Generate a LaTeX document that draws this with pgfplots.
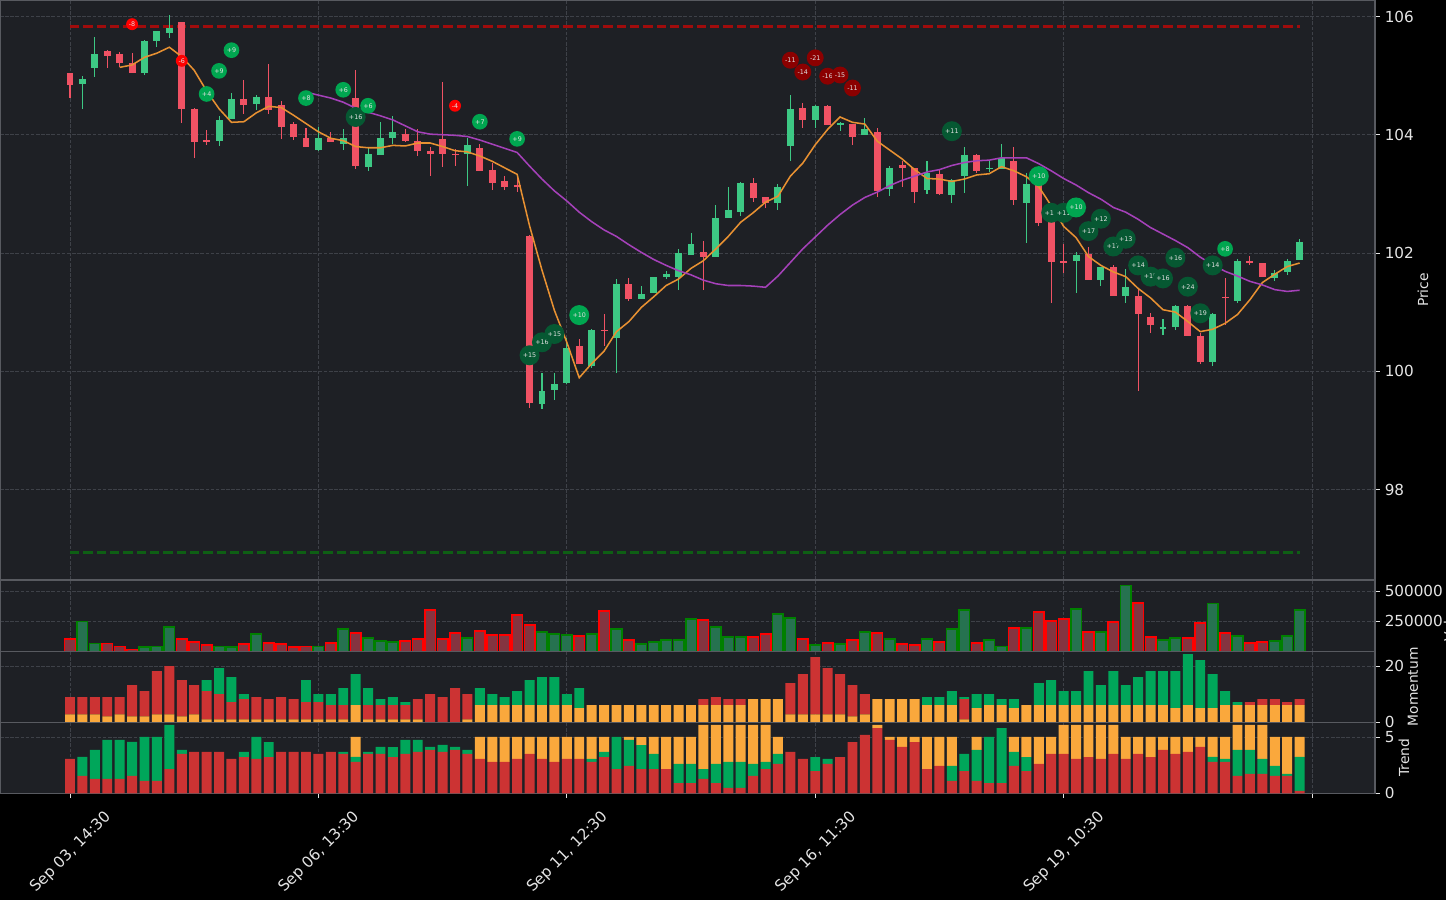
\documentclass[border=0pt]{standalone}
\usepackage{fontspec}
\setmainfont{DejaVu Sans}
\usepackage{pgfplots}
\usepackage{pgfplotstable}
\pgfplotsset{compat=1.18}
\definecolor{panelbg}{RGB}{30,32,37}
\definecolor{gridc}{RGB}{62,65,72}
\definecolor{spinec}{RGB}{88,90,96}
\definecolor{textc}{RGB}{228,228,228}
\definecolor{candG}{RGB}{61,200,132}
\definecolor{candR}{RGB}{240,82,100}
\definecolor{smaO}{RGB}{232,145,50}
\definecolor{smaP}{RGB}{165,65,185}
\definecolor{dashR}{RGB}{160,12,12}
\definecolor{dashG}{RGB}{14,95,20}
\definecolor{volGf}{RGB}{38,114,80}
\definecolor{volGe}{RGB}{0,128,0}
\definecolor{volRf}{RGB}{132,52,64}
\definecolor{volRe}{RGB}{255,0,0}
\definecolor{barO}{RGB}{250,168,60}
\definecolor{barR}{RGB}{204,51,51}
\definecolor{barG}{RGB}{0,166,90}
\definecolor{bR}{RGB}{255,0,0}
\definecolor{bDR}{RGB}{139,0,0}
\definecolor{bG}{RGB}{0,166,80}
\definecolor{bDG}{RGB}{6,88,50}
\definecolor{btext}{RGB}{225,225,225}
\newcommand{\tickfont}{\fontsize{11}{13}\selectfont}
\newcommand{\labfont}{\fontsize{10}{12}\selectfont}
\newcommand{\bfont}{\fontsize{4.6}{5}\selectfont}

\pgfplotstableread{
x o h l c
1 104.85 105.00 104.44 104.95
2 105.13 105.66 104.98 105.37
6 105.04 105.61 105.01 105.58
7 105.58 105.75 105.49 105.75
8 105.72 106.02 105.63 105.80
12 103.89 104.31 103.81 104.25
13 104.26 104.70 104.26 104.61
15 104.52 104.68 104.42 104.63
20 103.74 104.13 103.72 103.94
22 103.84 104.10 103.74 103.94
24 103.45 103.78 103.38 103.68
25 103.65 104.21 103.65 103.95
26 103.94 104.31 103.84 104.04
32 103.67 103.94 103.13 103.82
38 99.45 99.97 99.37 99.67
39 99.68 99.97 99.51 99.79
40 99.80 100.56 99.79 100.40
42 100.09 100.72 100.05 100.69
44 100.57 101.56 99.97 101.48
46 101.23 101.44 101.22 101.31
47 101.32 101.60 101.32 101.60
48 101.59 101.70 101.56 101.65
49 101.59 102.06 101.38 102.00
50 101.96 102.34 101.96 102.16
52 101.93 102.82 101.93 102.60
53 102.59 103.12 102.59 102.73
54 102.69 103.21 102.62 103.19
57 102.84 103.17 102.72 103.12
58 103.81 104.68 103.56 104.44
60 104.25 104.50 104.12 104.48
62 104.17 104.22 104.06 104.19
64 103.99 104.29 103.99 104.10
66 103.08 103.47 102.97 103.43
69 103.06 103.55 102.99 103.36
71 102.98 103.26 102.84 103.23
72 103.31 103.80 103.01 103.66
74 103.42 103.56 103.37 103.44
75 103.42 103.85 103.42 103.60
77 102.84 103.36 102.17 103.17
81 101.87 102.01 101.32 101.97
83 101.54 101.77 101.44 101.77
85 101.28 101.73 101.16 101.43
88 100.73 100.88 100.61 100.75
89 100.74 101.12 100.70 101.11
92 100.15 100.99 100.09 100.97
94 101.19 101.90 101.16 101.87
97 101.57 101.72 101.53 101.67
98 101.67 101.89 101.62 101.87
99 101.88 102.23 101.88 102.19
}\greenC

\pgfplotstableread{
x o h l c
0 105.04 105.04 104.62 104.84
3 105.41 105.44 105.13 105.33
4 105.36 105.40 105.14 105.22
5 105.22 105.39 105.04 105.04
9 105.90 105.90 104.19 104.43
10 104.43 104.46 103.61 103.87
11 103.92 104.08 103.83 103.87
14 104.60 104.93 104.35 104.50
16 104.63 105.20 104.35 104.41
17 104.51 104.58 103.93 104.14
18 104.18 104.21 103.91 103.97
19 103.94 104.12 103.79 103.79
21 103.94 104.05 103.87 103.87
23 104.63 105.10 103.42 103.48
27 104.02 104.10 103.87 103.90
28 103.90 104.10 103.64 103.72
29 103.73 103.79 103.31 103.68
30 103.92 104.90 103.45 103.67
31 103.68 103.76 103.47 103.66
33 103.78 103.85 103.39 103.39
34 103.41 103.53 103.06 103.19
35 103.21 103.31 103.06 103.12
36 103.14 103.27 103.04 103.12
37 102.29 102.30 99.37 99.46
41 100.42 100.55 100.12 100.12
43 100.70 100.97 100.43 100.68
45 101.48 101.58 101.19 101.23
51 102.02 102.20 101.38 101.93
55 103.19 103.26 102.86 102.93
56 102.94 102.94 102.76 102.84
59 104.46 104.53 104.12 104.25
61 104.48 104.50 104.16 104.16
63 104.19 104.19 103.83 103.96
65 104.05 104.11 102.94 103.04
67 103.49 103.55 103.11 103.43
68 103.43 103.43 102.84 103.03
70 103.34 103.40 102.99 102.99
73 103.65 103.68 103.35 103.38
76 103.56 103.80 102.81 102.89
78 103.17 103.20 102.45 102.50
79 102.62 102.62 101.16 101.84
80 101.87 102.15 101.66 101.84
82 101.98 102.10 101.54 101.54
84 101.77 101.80 101.28 101.28
86 101.28 101.40 99.67 100.96
87 100.91 100.99 100.65 100.78
90 101.11 101.12 100.59 100.59
91 100.60 100.65 100.12 100.15
93 101.26 101.58 100.78 101.24
95 101.87 101.95 101.80 101.83
96 101.84 101.84 101.59 101.59
}\redC

% signal badges, one table per colour and size
\pgfplotstableread{
x y lab
23 104.30 +16
37 100.27 +15
38 100.49 +16
39 100.63 +15
71 104.06 +11
79 102.68 +11
80 102.68 +11
82 102.37 +17
83 102.58 +12
84 102.11 +17
85 102.24 +13
86 101.79 +14
87 101.60 +15
88 101.57 +16
89 101.92 +16
90 101.43 +24
91 100.98 +19
92 101.79 +14
}\bdg
\pgfplotstableread{
x y lab
58 105.26 -11
59 105.06 -14
60 105.30 -21
61 104.99 -16
62 105.01 -15
63 104.79 -11
}\bdr
\pgfplotstableread{
x y lab
5 105.87 -8
9 105.25 -6
31 104.49 -4
}\brr
\pgfplotstableread{
x y lab
11 104.69 +4
12 105.08 +9
13 105.43 +9
19 104.62 +8
22 104.76 +6
24 104.49 +6
33 104.22 +7
36 103.93 +9
93 102.07 +8
}\bgs
\pgfplotstableread{
x y lab
41 100.95 +10
78 103.30 +10
81 102.77 +10
}\bgl

\pgfplotstableread{
x v
1 250000
2 64000
6 34000
7 42000
8 203000
12 42000
13 34000
15 144000
20 42000
22 186000
24 110000
25 84000
26 76000
32 110000
38 160000
39 144000
40 135000
42 144000
44 186000
46 59000
47 76000
48 93000
49 93000
50 270000
52 203000
53 118000
54 118000
57 312000
58 279000
60 51000
62 59000
64 160000
66 101000
69 101000
71 186000
72 346000
74 93000
75 42000
77 194000
81 355000
83 160000
85 549000
88 93000
89 110000
92 397000
94 127000
97 84000
98 127000
99 346000
}\volG

\pgfplotstableread{
x v
0 101000
3 64000
4 42000
5 17000
9 101000
10 76000
11 51000
14 59000
16 68000
17 59000
18 34000
19 42000
21 68000
23 152000
27 84000
28 101000
29 346000
30 101000
31 152000
33 169000
34 135000
35 135000
36 304000
37 220000
41 127000
43 338000
45 93000
51 262000
55 118000
56 144000
59 101000
61 68000
63 93000
65 152000
67 59000
68 51000
70 76000
73 68000
76 194000
78 329000
79 253000
80 270000
82 160000
84 245000
86 405000
87 118000
90 110000
91 236000
93 152000
95 68000
96 76000
}\volR

\pgfplotstableread{
x o r g
0 2.86 6.07 0
1 2.86 6.07 0
2 2.86 6.07 0
3 2.14 6.79 0
4 2.86 6.07 0
5 2.14 11.07 0
6 2.14 8.93 0
7 2.86 15.36 0
8 2.86 17.14 0
9 2.14 12.86 0
10 2.86 10.36 0
11 1.07 10.00 3.93
12 1.07 8.93 9.29
13 1.07 6.07 8.93
14 1.07 7.14 1.79
15 1.07 7.86 0
16 1.07 7.14 0
17 1.07 7.86 0
18 1.07 7.14 0
19 1.07 6.07 7.86
20 1.07 6.07 2.86
21 1.07 5.00 3.93
22 1.07 5.00 6.07
23 6.07 0 11.07
24 1.07 5.00 6.07
25 1.07 5.00 2.14
26 1.07 5.00 2.86
27 1.07 5.00 1.07
28 1.07 7.14 0
29 0 10.00 0
30 0 8.93 0
31 0 12.14 0
32 1.07 8.93 0
33 6.07 0 6.07
34 6.07 0 3.93
35 6.07 0 2.86
36 6.07 0 5.00
37 6.07 0 8.93
38 6.07 0 10.00
39 6.07 0 10.00
40 6.07 0 3.93
41 5.00 0 7.14
42 6.07 0 0
43 6.07 0 0
44 6.07 0 0
45 6.07 0 0
46 6.07 0 0
47 6.07 0 0
48 6.07 0 0
49 6.07 0 0
50 6.07 0 0
51 6.07 2.14 0
52 6.07 2.86 0
53 6.07 2.14 0
54 6.07 2.14 0
55 8.21 0 0
56 8.21 0 0
57 8.21 0 0
58 2.86 11.07 0
59 2.86 14.29 0
60 2.86 20.36 0
61 2.86 16.43 0
62 2.86 14.29 0
63 2.14 11.07 0
64 2.86 7.14 0
65 8.21 0 0
66 8.21 0 0
67 8.21 0 0
68 8.21 0 0
69 6.07 0 2.86
70 6.07 0 2.86
71 6.07 0 5.00
72 1.07 7.14 0.71
73 5.00 0 5.00
74 6.07 0 3.93
75 6.07 0 2.14
76 5.00 0 3.21
77 6.07 0 0
78 6.07 0 7.86
79 6.07 0 8.93
80 6.07 0 5.00
81 6.07 0 5.00
82 6.07 0 12.14
83 6.07 0 7.14
84 6.07 0 12.14
85 6.07 0 7.14
86 6.07 0 10.00
87 6.07 0 12.14
88 6.07 0 12.14
89 5.00 0 13.21
90 6.07 0 18.21
91 5.00 0 17.14
92 5.00 0 12.14
93 6.07 0 5.00
94 6.07 0 1.07
95 6.07 1.07 0
96 6.07 2.14 0
97 6.07 2.14 0
98 6.07 1.07 0
99 6.07 2.14 0
}\mom

\pgfplotstableread{
x r g o
0 3.07 0 0
1 1.55 1.70 0
2 1.28 2.59 0
3 1.28 3.48 0
4 1.28 3.48 0
5 1.55 3.04 0
6 1.10 3.93 0
7 1.10 3.93 0
8 2.17 3.93 0
9 3.51 0.36 0
10 3.69 0 0
11 3.69 0 0
12 3.69 0 0
13 3.07 0 0
14 3.24 0.45 0
15 3.07 1.96 0
16 3.24 1.34 0
17 3.69 0 0
18 3.69 0 0
19 3.69 0 0
20 3.51 0 0
21 3.69 0 0
22 3.51 0.18 0
23 2.80 0.45 1.79
24 3.51 0.18 0
25 3.51 0.63 0
26 3.24 0.89 0
27 3.51 1.25 0
28 3.69 1.07 0
29 3.87 0.27 0
30 3.69 0.63 0
31 3.87 0.27 0
32 3.51 0.36 0
33 3.07 0 1.96
34 2.80 0 2.23
35 2.80 0 2.23
36 3.07 0 1.96
37 3.51 0 1.52
38 3.07 0 1.96
39 2.80 0 2.23
40 3.07 0 1.96
41 3.07 0 1.96
42 2.80 0.27 1.96
43 3.24 0.45 1.34
44 2.17 2.86 0
45 2.44 2.32 0.27
46 2.17 2.14 0.71
47 2.17 1.34 1.52
48 2.17 0 2.86
49 0.92 1.70 2.41
50 0.92 1.70 2.41
51 1.28 0.89 3.93
52 0.92 1.70 3.48
53 0.48 2.32 3.30
54 0.48 2.32 3.30
55 1.55 1.07 3.48
56 2.17 0.63 3.30
57 2.62 0.89 1.52
58 3.69 0 0
59 3.07 0 0
60 1.99 1.25 0
61 2.62 0.45 0
62 3.24 0 0
63 4.58 0 0
64 5.21 0 0
65 5.83 0 0.27
66 4.76 0 0.27
67 4.14 0 0.89
68 4.58 0 0.45
69 2.17 0 2.86
70 2.44 0 2.59
71 1.10 1.34 2.59
72 1.99 1.52 0
73 1.10 2.77 1.16
74 0.92 4.11 0
75 0.92 4.91 0
76 2.44 1.25 1.34
77 1.99 1.25 1.79
78 2.62 0 2.41
79 3.51 0 1.52
80 3.51 0 2.59
81 3.07 0 3.04
82 3.24 0 2.86
83 3.07 0 3.04
84 3.51 0 2.59
85 3.07 0 1.96
86 3.51 0 1.52
87 3.24 0 1.79
88 3.87 0 1.16
89 3.51 0 1.52
90 3.69 0 1.34
91 4.14 0 0.89
92 2.80 0.45 1.79
93 2.80 0.27 1.96
94 1.55 2.32 2.23
95 1.73 2.14 2.23
96 1.73 1.34 3.04
97 1.55 0.89 2.59
98 1.55 0.18 3.30
99 0.21 3.04 1.79
}\trend

\pgfplotsset{
  panel/.style={
    scale only axis, width=990bp,
    xmin=-5.636, xmax=105.07, enlargelimits=false,
    axis background/.style={fill=panelbg},
    axis line style={spinec, line width=0.8bp},
    xmajorgrids, ymajorgrids,
    major grid style={gridc, line width=0.6bp, dash pattern=on 2.6bp off 1.1bp},
    xtick={0,20,40,60,80,100},
    ytick pos=right, yticklabel pos=right,
    tick align=outside, major tick length=3.5bp,
    tick style={textc, line width=0.6bp},
    tick label style={font=\tickfont, text=textc},
    label style={font=\labfont, text=textc},
    /pgf/number format/assume math mode=true,
    scaled y ticks=false,
    ylabel style={anchor=center},
  },
  upper/.style={xticklabels={}, xtick style={draw=none}},
  badge/.style={only marks, mark=*, mark size=0.2pt, color=panelbg,
    point meta=explicit symbolic, nodes near coords,
    every node near coord/.append style={anchor=center, circle, fill=#1,
      inner sep=0pt, text=btext, font=\bfont}},
}

\begin{document}
\begin{tikzpicture}
\fill[black] (0,0) rectangle (1041.12bp,648bp);
\useasboundingbox (0,0) rectangle (1041.12bp,648bp);

% ---------------- price panel ----------------
\begin{axis}[panel, upper, at={(0bp,648bp)}, anchor=north west, height=417.6bp,
  ymin=96.469, ymax=106.279, ytick={98,100,102,104,106},
  ylabel={Price}, ylabel style={at={(axis description cs:1.0349,0.5)}}]
\addplot[dashR, line width=2.16bp, dash pattern=on 6.7bp off 2.9bp] coordinates {(0,105.83) (99,105.83)};
\addplot[dashG, line width=2.16bp, dash pattern=on 6.7bp off 2.9bp] coordinates {(0,96.93) (99,96.93)};
% green candles
\addplot[draw=none, mark=none, error bars/.cd, y dir=both, y explicit, error mark=none,
  error bar style={draw=candG, line width=0.75bp}]
  table[x=x, y expr={(\thisrow{h}+\thisrow{l})/2}, y error expr={(\thisrow{h}-\thisrow{l})/2}] {\greenC};
\addplot[draw=none, mark=none, error bars/.cd, y dir=both, y explicit, error mark=none,
  error bar style={draw=candG, line width=5bp}]
  table[x=x, y expr={(\thisrow{o}+\thisrow{c})/2}, y error expr={max(abs(\thisrow{c}-\thisrow{o})/2,0.012)}] {\greenC};
% red candles
\addplot[draw=none, mark=none, error bars/.cd, y dir=both, y explicit, error mark=none,
  error bar style={draw=candR, line width=0.75bp}]
  table[x=x, y expr={(\thisrow{h}+\thisrow{l})/2}, y error expr={(\thisrow{h}-\thisrow{l})/2}] {\redC};
\addplot[draw=none, mark=none, error bars/.cd, y dir=both, y explicit, error mark=none,
  error bar style={draw=candR, line width=5bp}]
  table[x=x, y expr={(\thisrow{o}+\thisrow{c})/2}, y error expr={max(abs(\thisrow{c}-\thisrow{o})/2,0.012)}] {\redC};
% moving averages
\addplot[smaO, line width=1.1bp, mark=none] coordinates {
(4,105.14) (5,105.18) (6,105.31) (7,105.38) (8,105.48) (9,105.32) (10,105.09) (11,104.74) (12,104.44) (13,104.21)
(14,104.22) (15,104.37) (16,104.48) (17,104.46) (18,104.33) (19,104.19) (20,104.05) (21,103.94) (22,103.90) (23,103.80)
(24,103.78) (25,103.78) (26,103.82) (27,103.81) (28,103.86) (29,103.86) (30,103.80) (31,103.73) (32,103.71) (33,103.64)
(34,103.55) (35,103.44) (36,103.33) (37,102.46) (38,101.71) (39,101.03) (40,100.49) (41,99.89) (42,100.13) (43,100.34)
(44,100.67) (45,100.84) (46,101.08) (47,101.26) (48,101.45) (49,101.56) (50,101.74) (51,101.87) (52,102.07) (53,102.28)
(54,102.52) (55,102.68) (56,102.86) (57,102.96) (58,103.30) (59,103.52) (60,103.83) (61,104.09) (62,104.30) (63,104.21)
(64,104.18) (65,103.89) (66,103.74) (67,103.59) (68,103.41) (69,103.26) (70,103.25) (71,103.21) (72,103.25) (73,103.32)
(74,103.34) (75,103.46) (76,103.39) (77,103.29) (78,103.12) (79,102.80) (80,102.45) (81,102.26) (82,101.94) (83,101.79)
(84,101.68) (85,101.60) (86,101.40) (87,101.24) (88,101.04) (89,101.00) (90,100.84) (91,100.67) (92,100.71) (93,100.81)
(94,100.96) (95,101.21) (96,101.50) (97,101.64) (98,101.77) (99,101.83)};
\addplot[smaP, line width=1.1bp, mark=none] coordinates {
(19,104.72) (20,104.67) (21,104.62) (22,104.55) (23,104.45) (24,104.38) (25,104.32) (26,104.25) (27,104.15) (28,104.05)
(29,104.01) (30,104.00) (31,103.99) (32,103.97) (33,103.91) (34,103.84) (35,103.77) (36,103.70) (37,103.47) (38,103.25)
(39,103.05) (40,102.88) (41,102.69) (42,102.53) (43,102.39) (44,102.28) (45,102.14) (46,102.01) (47,101.89) (48,101.79)
(49,101.70) (50,101.63) (51,101.54) (52,101.48) (53,101.45) (54,101.45) (55,101.44) (56,101.42) (57,101.61) (58,101.84)
(59,102.07) (60,102.27) (61,102.47) (62,102.65) (63,102.81) (64,102.94) (65,103.03) (66,103.14) (67,103.23) (68,103.30)
(69,103.37) (70,103.41) (71,103.48) (72,103.53) (73,103.56) (74,103.57) (75,103.61) (76,103.61) (77,103.61) (78,103.51)
(79,103.39) (80,103.26) (81,103.15) (82,103.02) (83,102.91) (84,102.77) (85,102.69) (86,102.57) (87,102.43) (88,102.32)
(89,102.21) (90,102.09) (91,101.93) (92,101.80) (93,101.69) (94,101.61) (95,101.52) (96,101.46) (97,101.38) (98,101.35)
(99,101.37)};
% signal badges
\addplot[badge=bDG, every node near coord/.append style={minimum size=14.4bp}] table[x=x, y=y, meta=lab] {\bdg};
\addplot[badge=bDR, every node near coord/.append style={minimum size=12.2bp}] table[x=x, y=y, meta=lab] {\bdr};
\addplot[badge=bR, every node near coord/.append style={minimum size=8.6bp}] table[x=x, y=y, meta=lab] {\brr};
\addplot[badge=bG, every node near coord/.append style={minimum size=11.3bp}] table[x=x, y=y, meta=lab] {\bgs};
\addplot[badge=bG, every node near coord/.append style={minimum size=14.4bp}] table[x=x, y=y, meta=lab] {\bgl};
\end{axis}

% ---------------- volume panel ----------------
\begin{axis}[panel, upper, at={(0bp,230.4bp)}, anchor=north west, height=51.34bp,
  ymin=0, ymax=595000, ytick={250000,500000}, yticklabels={250000,500000},
  ylabel={Volume}, ylabel style={at={(axis description cs:1.054,0.5)}}]
\addplot[ybar, bar width=0.85, bar shift=0pt, fill=volGf, draw=volGe, line width=1.1bp] table[x=x,y=v] {\volG};
\addplot[ybar, bar width=0.85, bar shift=0pt, fill=volRf, draw=volRe, line width=1.1bp] table[x=x,y=v] {\volR};
\end{axis}

% ---------------- momentum panel ----------------
\begin{axis}[panel, upper, at={(0bp,179.06bp)}, anchor=north west, height=51.12bp,
  ymin=0, ymax=25.25, ytick={0,20}, ybar stacked, bar width=0.8,
  ylabel={Momentum}, ylabel style={at={(axis description cs:1.0276,0.5)}}]
\addplot[fill=barO, draw=none] table[x=x,y=o] {\mom};
\addplot[fill=barR, draw=none] table[x=x,y=r] {\mom};
\addplot[fill=barG, draw=none] table[x=x,y=g] {\mom};
\end{axis}

% ---------------- trend panel ----------------
\begin{axis}[panel, at={(0bp,127.94bp)}, anchor=north west, height=51.12bp,
  ymin=0, ymax=6.34, ytick={0,5}, ybar stacked, bar width=0.8,
  xtick pos=bottom,
  xticklabels={{Sep 03, 14:30},{Sep 06, 13:30},{Sep 11, 12:30},{Sep 16, 11:30},{Sep 19, 10:30},{}},
  xticklabel style={yshift=-39bp, xshift=0.5bp, rotate=45, anchor=center},
  ylabel={Trend}, ylabel style={at={(axis description cs:1.0211,0.5)}}]
\addplot[fill=barR, draw=none] table[x=x,y=r] {\trend};
\addplot[fill=barG, draw=none] table[x=x,y=g] {\trend};
\addplot[fill=barO, draw=none] table[x=x,y=o] {\trend};
\end{axis}
\end{tikzpicture}
\end{document}
